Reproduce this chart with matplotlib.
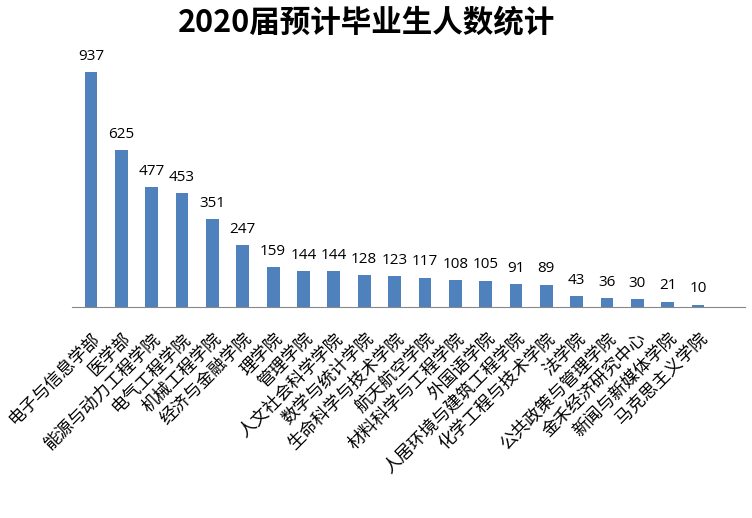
import matplotlib
matplotlib.use('Agg')
import matplotlib.pyplot as plt

# schools and expected graduate counts
schools = ['电子与信息学部', '医学部', '能源与动力工程学院', '电气工程学院', '机械工程学院',
           '经济与金融学院', '理学院', '管理学院', '人文社会科学学院', '数学与统计学院',
           '生命科学与技术学院', '航天航空学院', '材料科学与工程学院', '外国语学院',
           '人居环境与建筑工程学院', '化学工程与技术学院', '法学院', '公共政策与管理学院',
           '金禾经济研究中心', '新闻与新媒体学院', '马克思主义学院']
counts = [937, 625, 477, 453, 351, 247, 159, 144, 144, 128, 123, 117, 108, 105, 91, 89,
          43, 36, 30, 21, 10]
title = '2020届预计毕业生人数统计'

plt.rcParams['font.family'] = ['Noto Sans CJK SC', 'DejaVu Sans']

fig = plt.figure(figsize=(7.52, 5.18), dpi=100)
ax = fig.add_axes([0.0957, 0.4073, 0.895, 0.4962])

x = list(range(len(counts)))
bars = ax.bar(x, counts, width=0.42, color='#4F81BD')
for b, v in zip(bars, counts):
    ax.annotate(str(v), (b.get_x() + b.get_width() / 2, v), xytext=(0, 6),
                textcoords='offset points', ha='center', va='bottom', fontsize=11,
                family=['Open Sans', 'DejaVu Sans'])

ax.set_xlim(-0.63, 21.55)
ax.set_ylim(0, 1025)
ax.set_yticks([])
ax.set_xticks(x)
ax.set_xticklabels(schools, rotation=45, ha='right', va='top', rotation_mode='anchor',
                   fontsize=12.5)
ax.tick_params(axis='x', length=0, pad=16)
for s in ['top', 'right', 'left']:
    ax.spines[s].set_visible(False)
ax.spines['bottom'].set_color('#888888')

fig.text(0.487, 0.957, title, ha='center', va='center', fontsize=22, fontweight='bold')

fig.savefig('out.png', dpi=100)
